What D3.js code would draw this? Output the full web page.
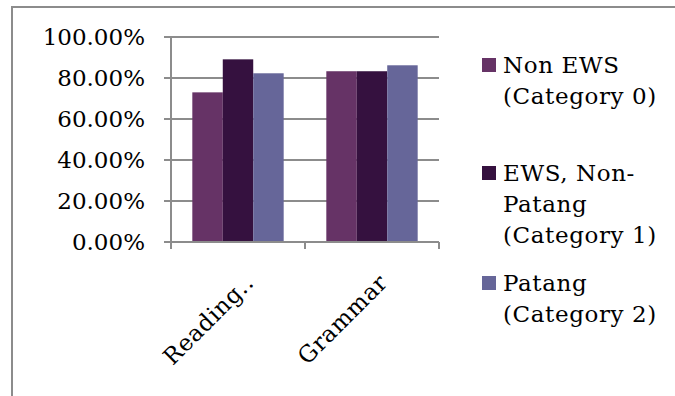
<!DOCTYPE html>
<html>
<head>
<meta charset="utf-8">
<script src="https://cdn.jsdelivr.net/npm/d3@7"></script>
<style>
  html, body { margin: 0; padding: 0; background: #fff; }
  svg { display: block; }
  text { font-family: "DejaVu Serif", serif; fill: #000; }
</style>
</head>
<body>
<svg id="chart" width="675" height="396"></svg>
<script>
// Share of students per test, by student group
const categories = ["Reading..", "Grammar"];
const seriesNames = [
  ["Non EWS", "(Category 0)"],
  ["EWS, Non-", "Patang", "(Category 1)"],
  ["Patang", "(Category 2)"]
];
const nonEws = [0.73, 0.833];
const ewsNonPatang = [0.891, 0.833];
const patang = [0.823, 0.862];
const yTicks = [0, 0.2, 0.4, 0.6, 0.8, 1.0];
const colors = ["#663366", "#35113F", "#666699"];

const series = [nonEws, ewsNonPatang, patang];

const svg = d3.select("#chart");
const fontSize = 23;
const gridColor = "#8c8c8c";

// outer frame of the chart object
svg.append("rect")
  .attr("x", 12).attr("y", 7)
  .attr("width", 700).attr("height", 420)
  .attr("fill", "none")
  .attr("stroke", gridColor)
  .attr("stroke-width", 2);

const plot = { left: 171, right: 439, top: 37, bottom: 242 };

const x0 = d3.scaleBand()
  .domain(categories)
  .range([plot.left, plot.right])
  .paddingInner(0).paddingOuter(0);

const x1 = d3.scaleBand()
  .domain(d3.range(series.length))
  .range([0, x0.bandwidth()])
  .paddingOuter(0.7).paddingInner(0);

const y = d3.scaleLinear().domain([0, 1]).range([plot.bottom, plot.top]);

// horizontal gridlines
svg.append("g")
  .selectAll("line")
  .data(yTicks)
  .join("line")
  .attr("x1", plot.left - 7)
  .attr("x2", plot.right)
  .attr("y1", d => y(d)).attr("y2", d => y(d))
  .attr("stroke", gridColor)
  .attr("stroke-width", 2);

// bars
const groups = svg.append("g")
  .selectAll("g")
  .data(categories)
  .join("g")
  .attr("transform", d => `translate(${x0(d)},0)`);

groups.selectAll("rect")
  .data((d, i) => series.map((s, k) => ({ k, v: s[i] })))
  .join("rect")
  .attr("x", d => x1(d.k))
  .attr("width", x1.bandwidth())
  .attr("y", d => y(d.v))
  .attr("height", d => y(0) - y(d.v))
  .attr("fill", d => colors[d.k]);

// y axis line
svg.append("line")
  .attr("x1", plot.left).attr("x2", plot.left)
  .attr("y1", plot.top).attr("y2", plot.bottom + 7)
  .attr("stroke", gridColor).attr("stroke-width", 2);

// x axis line and category boundary ticks
svg.append("line")
  .attr("x1", plot.left).attr("x2", plot.right)
  .attr("y1", plot.bottom).attr("y2", plot.bottom)
  .attr("stroke", gridColor).attr("stroke-width", 2);

const boundaries = categories.map(c => x0(c) + x0.bandwidth());
svg.append("g")
  .selectAll("line")
  .data(boundaries)
  .join("line")
  .attr("x1", d => d).attr("x2", d => d)
  .attr("y1", plot.bottom).attr("y2", plot.bottom + 7)
  .attr("stroke", gridColor).attr("stroke-width", 2);

// y tick labels
const fmt = d3.format(".2%");
svg.append("g")
  .selectAll("text")
  .data(yTicks)
  .join("text")
  .attr("x", 145)
  .attr("y", d => y(d))
  .attr("dy", "0.36em")
  .attr("text-anchor", "end")
  .attr("font-size", fontSize)
  .text(d => fmt(d));

// rotated category labels
svg.append("g")
  .selectAll("text")
  .data(categories)
  .join("text")
  .attr("text-anchor", "end")
  .attr("font-size", fontSize)
  .attr("letter-spacing", 0.6)
  .attr("transform", d => `translate(${x0(d) + x0.bandwidth() / 2 + 17},${plot.bottom + 42}) rotate(-45)`)
  .text(d => d);

// legend
const legendTop = [65, 173, 283];
const legend = svg.append("g")
  .selectAll("g")
  .data(seriesNames)
  .join("g")
  .attr("transform", (d, i) => `translate(482,${legendTop[i]})`);

legend.append("rect")
  .attr("x", 0).attr("y", -7)
  .attr("width", 14).attr("height", 14)
  .attr("fill", (d, i) => colors[i]);

legend.append("text")
  .attr("font-size", fontSize)
  .attr("letter-spacing", 0.6)
  .selectAll("tspan")
  .data(d => d)
  .join("tspan")
  .attr("x", 21)
  .attr("y", (d, j) => j * 31)
  .attr("dy", "0.36em")
  .text(d => d);
</script>
</body>
</html>
